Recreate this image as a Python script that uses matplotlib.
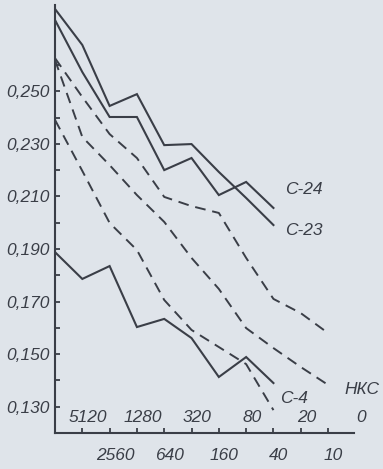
import matplotlib
matplotlib.use('Agg')
import matplotlib.pyplot as plt
from matplotlib.ticker import FixedLocator

# dilution steps on the x axis (position 0 is the y axis itself)
dilutions = ['5120', '2560', '1280', '640', '320', '160', '80', '40', '20', '10', '0']

# readings
c24 = [0.2771, 0.2573, 0.2402, 0.2402, 0.2200, 0.2246, 0.2105, 0.2155, 0.2056]
c23 = [0.2813, 0.2676, 0.2444, 0.2489, 0.2295, 0.2299, 0.2193, 0.2094, 0.1991]
c4 = [0.1888, 0.1786, 0.1835, 0.1603, 0.1634, 0.1561, 0.1413, 0.1489, 0.1390]
nks = [0.2619, 0.2326, 0.2219, 0.2105, 0.2003, 0.1866, 0.1748, 0.1599, 0.1523, 0.1451, 0.1383]
dash_upper = [0.2626, 0.2478, 0.2337, 0.2246, 0.2098, 0.2063, 0.2037, 0.1866, 0.1710, 0.1656, 0.1580]
dash_lower = [0.2391, 0.2197, 0.1999, 0.1896, 0.1706, 0.1592, 0.1527, 0.1462, 0.1287]

y_labelled = [0.130, 0.150, 0.170, 0.190, 0.210, 0.230, 0.250]
y_between = [0.140, 0.160, 0.180, 0.200, 0.220, 0.240, 0.260]

bg = '#dfe4ea'
ink = '#3a3e47'
font = dict(family=['Liberation Sans', 'DejaVu Sans'], style='italic', size=12.5, color=ink)

fig = plt.figure(figsize=(3.83, 4.69), dpi=100, facecolor=bg)
ax = fig.add_axes([55 / 383, 36 / 469, 299 / 383, 428 / 469], facecolor=bg)

solid = dict(color=ink, lw=1.5, solid_joinstyle='miter')
dashed = dict(color=ink, lw=1.4, dashes=(5.5, 3.5))

ax.plot(range(len(c24)), c24, **solid)
ax.plot(range(len(c23)), c23, **solid)
ax.plot(range(len(c4)), c4, **solid)
ax.plot(range(len(nks)), nks, **dashed)
ax.plot(range(len(dash_upper)), dash_upper, **dashed)
ax.plot(range(len(dash_lower)), dash_lower, **dashed)

ax.set_xlim(0, 10.95)
ax.set_ylim(0.120, 0.2828)

for s in ['top', 'right']:
    ax.spines[s].set_visible(False)
for s in ['left', 'bottom']:
    ax.spines[s].set_linewidth(1.5)
    ax.spines[s].set_color(ink)

ax.yaxis.set_major_locator(FixedLocator(y_labelled))
ax.yaxis.set_minor_locator(FixedLocator(y_between))
ax.set_yticklabels([f'{v:.3f}'.replace('.', ',') for v in y_labelled], fontdict=font)
ax.tick_params(axis='y', which='both', direction='in', length=3.5, width=1.3, color=ink, pad=4)

ax.set_xticks(range(1, 11))
ax.set_xticklabels([])
ax.tick_params(axis='x', direction='in', length=3.5, width=1.3, color=ink)

# two staggered rows of dilution labels
for k, lab in enumerate(dilutions, start=1):
    dy = 11 if k % 2 else -16
    ax.annotate(lab, xy=(k, 0), xycoords=('data', 'axes fraction'),
                xytext=(4, dy), textcoords='offset points',
                ha='center', va='center', annotation_clip=False, **font)

# curve names at the line ends
ax.annotate('С-24', xy=(len(c24) - 1, c24[-1]), xytext=(8, 13), textcoords='offset points',
            ha='left', va='center', annotation_clip=False, **font)
ax.annotate('С-23', xy=(len(c23) - 1, c23[-1]), xytext=(8, -4), textcoords='offset points',
            ha='left', va='center', annotation_clip=False, **font)
ax.annotate('С-4', xy=(len(c4) - 1, c4[-1]), xytext=(5, -11), textcoords='offset points',
            ha='left', va='center', annotation_clip=False, **font)
ax.annotate('НКС', xy=(len(nks) - 1, nks[-1]), xytext=(12, -3), textcoords='offset points',
            ha='left', va='center', annotation_clip=False, **font)

fig.savefig('out.png', dpi=100, facecolor=bg)
